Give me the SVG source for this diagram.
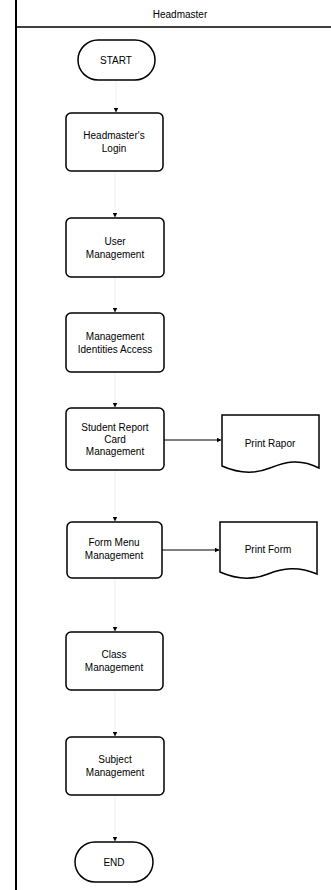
<svg xmlns="http://www.w3.org/2000/svg" width="331" height="890" viewBox="0 0 331 890">
<defs>
<marker id="ah" viewBox="0 0 10 10" refX="9" refY="5" markerWidth="5" markerHeight="5" orient="auto"><path d="M0,0 L10,5 L0,10 z" fill="#000"/></marker>
</defs>
<style>
.box{fill:#fff;stroke:#000;stroke-width:1.5}
.t{font-family:"Liberation Sans",Arial,sans-serif;font-size:10px;fill:#000;text-anchor:middle}
.c{stroke:#000;stroke-width:1;fill:none}
.cv{stroke:#eee;stroke-width:1;fill:none}
</style>
<rect width="331" height="890" fill="#fff"/>
<g id="lane">
<line x1="16" y1="0" x2="16" y2="890" stroke="#000" stroke-width="2"/>
<line x1="16" y1="27" x2="331" y2="27" stroke="#000" stroke-width="1.5"/>
<text class="t" x="180" y="18" font-size="9">Headmaster</text>
</g>
<g id="connectors">
<line class="cv" x1="116" y1="80" x2="116" y2="112" marker-end="url(#ah)"/>
<line class="cv" x1="115" y1="171" x2="115" y2="217" marker-end="url(#ah)"/>
<line class="cv" x1="115" y1="277" x2="115" y2="312" marker-end="url(#ah)"/>
<line class="cv" x1="115" y1="372" x2="115" y2="407" marker-end="url(#ah)"/>
<line class="cv" x1="115" y1="470" x2="115" y2="521" marker-end="url(#ah)"/>
<line class="cv" x1="115" y1="578" x2="115" y2="631" marker-end="url(#ah)"/>
<line class="cv" x1="115" y1="690" x2="115" y2="736" marker-end="url(#ah)"/>
<line class="cv" x1="115" y1="795" x2="115" y2="841" marker-end="url(#ah)"/>
<line class="c" x1="164" y1="440" x2="221" y2="440" marker-end="url(#ah)"/>
<line class="c" x1="162" y1="550" x2="219" y2="550" marker-end="url(#ah)"/>
</g>
<g id="start">
<rect class="box" x="78" y="40" width="77" height="40" rx="20"/>
<text class="t" x="116" y="64">START</text>
</g>
<g id="login">
<rect class="box" x="66" y="113" width="97" height="58" rx="5"/>
<text class="t" x="114" y="139">Headmaster's</text>
<text class="t" x="114" y="152">Login</text>
</g>
<g id="user">
<rect class="box" x="66" y="218" width="98" height="59" rx="5"/>
<text class="t" x="115" y="245">User</text>
<text class="t" x="115" y="258">Management</text>
</g>
<g id="identities">
<rect class="box" x="66" y="313" width="98" height="59" rx="5"/>
<text class="t" x="115" y="340">Management</text>
<text class="t" x="115" y="353">Identities Access</text>
</g>
<g id="reportcard">
<rect class="box" x="66" y="408" width="98" height="62" rx="5"/>
<text class="t" x="115" y="431">Student Report</text>
<text class="t" x="115" y="443">Card</text>
<text class="t" x="115" y="455">Management</text>
</g>
<g id="printrapor">
<path class="box" stroke-width="1" d="M222,415 H319 V468 C300,458 285,462 270,468 C255,474 240,474 222,466 Z"/>
<text class="t" x="270" y="447">Print Rapor</text>
</g>
<g id="formmenu">
<rect class="box" x="67" y="522" width="95" height="56" rx="5"/>
<text class="t" x="114" y="546">Form Menu</text>
<text class="t" x="114" y="559">Management</text>
</g>
<g id="printform">
<path class="box" stroke-width="1" d="M220,522 H317 V574 C298,566 283,568 268,574 C253,580 238,580 220,572 Z"/>
<text class="t" x="268" y="553">Print Form</text>
</g>
<g id="class">
<rect class="box" x="66" y="632" width="97" height="58" rx="5"/>
<text class="t" x="114" y="658">Class</text>
<text class="t" x="114" y="671">Management</text>
</g>
<g id="subject">
<rect class="box" x="66" y="737" width="98" height="58" rx="5"/>
<text class="t" x="115" y="763">Subject</text>
<text class="t" x="115" y="776">Management</text>
</g>
<g id="end">
<rect class="box" x="75" y="842" width="78" height="40" rx="20"/>
<text class="t" x="114" y="866">END</text>
</g>
</svg>
